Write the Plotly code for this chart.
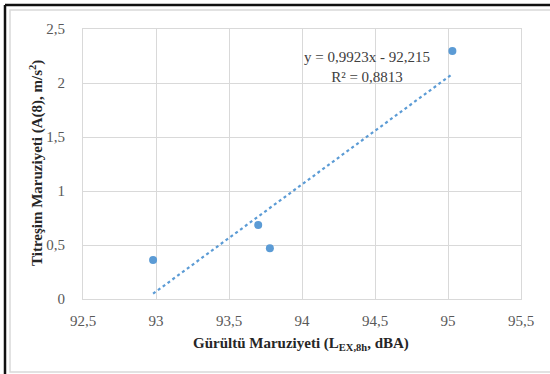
import plotly.graph_objects as go

# Data
noise_dba = [92.98, 93.70, 93.78, 95.03]
vibration_a8 = [0.36, 0.685, 0.47, 2.296]
slope = 0.9923
intercept = -92.215
r2 = 0.8813

trend_x = [min(noise_dba), max(noise_dba)]
trend_y = [slope * x + intercept for x in trend_x]

L, R, T, B = 83, 29, 29, 75
W, H = 550, 374
pw, ph = W - L - R, H - T - B

def px(x):
    return (x - L) / pw

def py(y):
    return (H - B - y) / ph

fig = go.Figure()
fig.add_trace(go.Scatter(
    x=trend_x, y=trend_y, mode="lines",
    line=dict(color="#5B9BD5", width=2.2, dash="dot"),
    hoverinfo="skip", showlegend=False))
fig.add_trace(go.Scatter(
    x=noise_dba, y=vibration_a8, mode="markers",
    marker=dict(color="#5B9BD5", size=8),
    showlegend=False))

font_serif = "Liberation Serif"

fig.update_layout(
    width=W, height=H,
    margin=dict(l=L, r=R, t=T, b=B),
    paper_bgcolor="white", plot_bgcolor="white",
    separators=", ",
    font=dict(family=font_serif, size=14, color="#595959"),
    xaxis=dict(range=[92.5, 95.5], dtick=0.5, tick0=92.5,
               showgrid=True, gridcolor="#D9D9D9", gridwidth=1,
               showline=True, linecolor="#D9D9D9", mirror=True,
               zeroline=False, ticks="", ticklabelstandoff=8,
               tickfont=dict(family=font_serif, size=15, color="#595959")),
    yaxis=dict(range=[0, 2.5], dtick=0.5, tick0=0,
               showgrid=True, gridcolor="#D9D9D9", gridwidth=1,
               showline=True, linecolor="#D9D9D9", mirror=True,
               zeroline=False, ticks="", ticklabelstandoff=14,
               tickfont=dict(family=font_serif, size=15, color="#595959")),
    annotations=[
        dict(text="y = 0,9923x - 92,215<br>R² = 0,8813",
             xref="paper", yref="paper", x=px(367), y=py(67),
             xanchor="center", yanchor="middle", showarrow=False,
             align="center",
             font=dict(family=font_serif, size=15, color="#404040")),
        dict(text="<b>Gürültü Maruziyeti (L<sub>EX,8h</sub>, dBA)</b>",
             xref="paper", yref="paper", x=px(301), y=py(344),
             xanchor="center", yanchor="middle", showarrow=False,
             font=dict(family=font_serif, size=15, color="#262626")),
        dict(text="<b>Titreşim Maruziyeti (A(8), m/s<sup>2</sup>)</b>",
             xref="paper", yref="paper", x=px(36), y=py(163),
             xanchor="center", yanchor="middle", showarrow=False,
             textangle=-90,
             font=dict(family=font_serif, size=15, color="#262626")),
    ],
    shapes=[
        # inner light frame
        dict(type="rect", xref="paper", yref="paper",
             x0=px(10), x1=px(560), y0=py(372), y1=py(10),
             line=dict(color="#D9D9D9", width=1.5), layer="below"),
        # outer dark frame (top and left)
        dict(type="line", xref="paper", yref="paper",
             x0=px(5), x1=px(560), y0=py(5), y1=py(5),
             line=dict(color="#111111", width=2.5)),
        dict(type="line", xref="paper", yref="paper",
             x0=px(5), x1=px(5), y0=py(5), y1=py(380),
             line=dict(color="#111111", width=2.5)),
    ],
)

fig.write_html("out.html",
               config={"displayModeBar": False},
               post_script="document.body.style.margin='0';document.body.style.padding='0';")
